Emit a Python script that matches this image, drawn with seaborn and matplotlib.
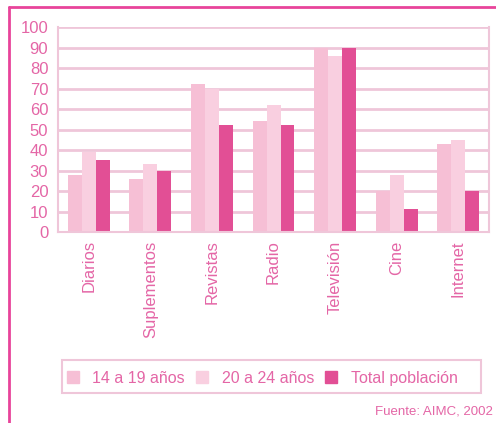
import matplotlib
matplotlib.use("Agg")
import matplotlib.pyplot as plt
import seaborn as sns
import pandas as pd
from matplotlib.lines import Line2D
from matplotlib.patches import Rectangle

categorias = ["Diarios", "Suplementos", "Revistas", "Radio", "Televisión", "Cine", "Internet"]
edad_14_19 = [28, 26, 72, 54, 90, 20, 43]
edad_20_24 = [39, 33, 70, 62, 86, 28, 45]
total_poblacion = [35, 30, 52, 52, 90, 11, 20]
series = ["14 a 19 años", "20 a 24 años", "Total población"]
yticks = list(range(0, 101, 10))

df = pd.DataFrame({
    "medio": categorias * 3,
    "valor": edad_14_19 + edad_20_24 + total_poblacion,
    "serie": [series[0]] * 7 + [series[1]] * 7 + [series[2]] * 7,
})

sns.set_theme(style="white")
plt.rcParams['font.family'] = ['Liberation Sans', 'DejaVu Sans']
txt = "#e466a6"
grid = "#efc6d9"
palette = {series[0]: "#f6bfd5", series[1]: "#f9cfe0", series[2]: "#e24f95"}

fig = plt.figure(figsize=(4.96, 4.23), dpi=100)
ax = fig.add_axes([0.117, 0.4515, 0.869, 0.4845])
sns.barplot(data=df, x="medio", y="valor", hue="serie", palette=palette,
            width=0.68, gap=0, saturation=1, linewidth=0, ax=ax, legend=False)

ax.set_ylim(0, 100)
ax.set_xlim(-0.5, 6.5)
ax.set_yticks(yticks)
ax.set_yticklabels([str(t) for t in yticks], color=txt, fontsize=12)
ax.set_axisbelow(True)
ax.yaxis.grid(True, color=grid, linewidth=2)
ax.set_xlabel("")
ax.set_ylabel("")
ax.set_xticks(range(7))
ax.set_xticklabels(categorias, rotation=90, color=txt, fontsize=12)
ax.tick_params(axis="x", length=0, pad=6)
ax.tick_params(axis="y", length=4, color=grid, pad=3, width=1.5)
ax.set_xticks([i + 0.5 for i in range(-1, 7)], minor=True)
ax.tick_params(axis="x", which="minor", length=4, color=grid, width=1.5, direction="out")
ax.spines["top"].set_visible(False)
for s in ["left", "bottom", "right"]:
    ax.spines[s].set_color(grid)
    ax.spines[s].set_linewidth(1.5)

# legend frame
fig.add_artist(Rectangle((62 / 496, 1 - 393 / 423), 419 / 496, 33 / 423,
                         transform=fig.transFigure, facecolor="none",
                         edgecolor=grid, linewidth=1.5))
handles = [Line2D([], [], marker="s", linestyle="", markersize=8.5,
                  markerfacecolor=palette[s], markeredgecolor=palette[s]) for s in series]
leg = fig.legend(handles, series, loc="center left", bbox_to_anchor=(65 / 496, 1 - 378 / 423),
                 ncol=3, frameon=False, fontsize=11.5, handletextpad=0.7,
                 columnspacing=0.6, borderpad=0, borderaxespad=0, handlelength=1.0)
for t in leg.get_texts():
    t.set_color(txt)

fig.text(0.993, 0.027, "Fuente: AIMC, 2002", color=txt, fontsize=9.5, ha="right", va="center")

fig.add_artist(Line2D([0.018, 1.0], [0.983, 0.983], color="#e8449a", linewidth=2, transform=fig.transFigure))
fig.add_artist(Line2D([0.018, 0.018], [0.0, 0.983], color="#e8449a", linewidth=2, transform=fig.transFigure))

fig.savefig("out.png", dpi=100)
